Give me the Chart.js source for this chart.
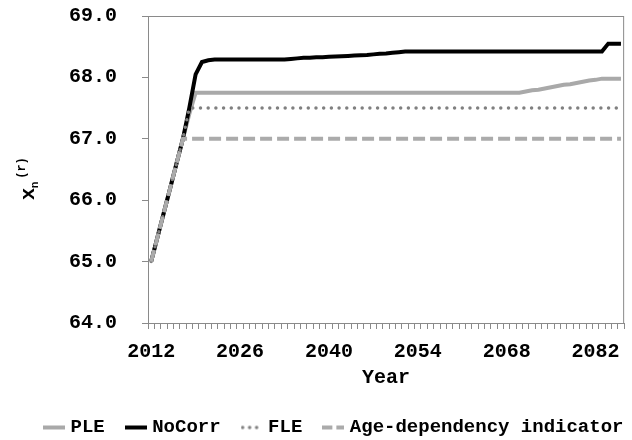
<!DOCTYPE html>
<html>
<head>
<meta charset="utf-8">
<script src="https://cdn.jsdelivr.net/npm/chart.js@4/dist/chart.umd.min.js"></script>
<style>
  html, body { margin: 0; padding: 0; background: #fff; }
  #wrap { width: 632px; height: 440px; position: relative; }
</style>
</head>
<body>
<div id="wrap"><canvas id="chart"></canvas></div>
<script>
// years on the category axis
const firstYear = 2012;
const lastYear = 2086;
const years = [];
for (let y = firstYear; y <= lastYear; y++) years.push(String(y));

const seriesNames = ['PLE', 'NoCorr', 'FLE', 'Age-dependency indicator'];

// values, one row = ten years
const ple = [
  65.0, 65.4, 65.8, 66.2, 66.6, 67.0, 67.4, 67.75, 67.75, 67.75,
  67.75, 67.75, 67.75, 67.75, 67.75, 67.75, 67.75, 67.75, 67.75, 67.75,
  67.75, 67.75, 67.75, 67.75, 67.75, 67.75, 67.75, 67.75, 67.75, 67.75,
  67.75, 67.75, 67.75, 67.75, 67.75, 67.75, 67.75, 67.75, 67.75, 67.75,
  67.75, 67.75, 67.75, 67.75, 67.75, 67.75, 67.75, 67.75, 67.75, 67.75,
  67.75, 67.75, 67.75, 67.75, 67.75, 67.75, 67.75, 67.75, 67.75, 67.77,
  67.79, 67.80, 67.82, 67.84, 67.86, 67.88, 67.89, 67.91, 67.93, 67.95,
  67.96, 67.98, 67.98, 67.98, 67.98
];
const noCorr = [
  65.0, 65.4, 65.8, 66.2, 66.6, 67.0, 67.5, 68.05, 68.25, 68.28,
  68.29, 68.29, 68.29, 68.29, 68.29, 68.29, 68.29, 68.29, 68.29, 68.29,
  68.29, 68.29, 68.30, 68.31, 68.32, 68.32, 68.33, 68.33, 68.335, 68.34,
  68.345, 68.35, 68.355, 68.36, 68.365, 68.375, 68.385, 68.39, 68.40, 68.41,
  68.42, 68.42, 68.42, 68.42, 68.42, 68.42, 68.42, 68.42, 68.42, 68.42,
  68.42, 68.42, 68.42, 68.42, 68.42, 68.42, 68.42, 68.42, 68.42, 68.42,
  68.42, 68.42, 68.42, 68.42, 68.42, 68.42, 68.42, 68.42, 68.42, 68.42,
  68.42, 68.42, 68.55, 68.55, 68.55
];
const fle = [
  65.0, 65.4, 65.8, 66.2, 66.6, 67.0, 67.5, 67.5, 67.5, 67.5,
  67.5, 67.5, 67.5, 67.5, 67.5, 67.5, 67.5, 67.5, 67.5, 67.5,
  67.5, 67.5, 67.5, 67.5, 67.5, 67.5, 67.5, 67.5, 67.5, 67.5,
  67.5, 67.5, 67.5, 67.5, 67.5, 67.5, 67.5, 67.5, 67.5, 67.5,
  67.5, 67.5, 67.5, 67.5, 67.5, 67.5, 67.5, 67.5, 67.5, 67.5,
  67.5, 67.5, 67.5, 67.5, 67.5, 67.5, 67.5, 67.5, 67.5, 67.5,
  67.5, 67.5, 67.5, 67.5, 67.5, 67.5, 67.5, 67.5, 67.5, 67.5,
  67.5, 67.5, 67.5, 67.5, 67.5
];
const ageDep = [
  65.0, 65.4, 65.8, 66.2, 66.6, 67.0, 67.0, 67.0, 67.0, 67.0,
  67.0, 67.0, 67.0, 67.0, 67.0, 67.0, 67.0, 67.0, 67.0, 67.0,
  67.0, 67.0, 67.0, 67.0, 67.0, 67.0, 67.0, 67.0, 67.0, 67.0,
  67.0, 67.0, 67.0, 67.0, 67.0, 67.0, 67.0, 67.0, 67.0, 67.0,
  67.0, 67.0, 67.0, 67.0, 67.0, 67.0, 67.0, 67.0, 67.0, 67.0,
  67.0, 67.0, 67.0, 67.0, 67.0, 67.0, 67.0, 67.0, 67.0, 67.0,
  67.0, 67.0, 67.0, 67.0, 67.0, 67.0, 67.0, 67.0, 67.0, 67.0,
  67.0, 67.0, 67.0, 67.0, 67.0
];

const yMin = 64;
const yMax = 69;
const yStep = 1;
const labelEvery = 14;

const mono = "'Liberation Mono', 'Courier New', monospace";
const axisGray = '#8a8a8a';
const legendPad = 24;

// small line samples used as legend markers (keeps the dash patterns)
function lineMarker(color, width, dash, cap) {
  const c = document.createElement('canvas');
  c.width = 22;
  c.height = 8;
  const g = c.getContext('2d');
  g.strokeStyle = color;
  g.lineWidth = width;
  g.lineCap = cap || 'butt';
  g.setLineDash(dash || []);
  g.beginPath();
  g.moveTo(cap === 'round' ? 2 : 0, 4);
  g.lineTo(22, 4);
  g.stroke();
  return c;
}

// border round the plot area
const plotFrame = {
  id: 'plotFrame',
  beforeDatasetsDraw(chart) {
    const { ctx, chartArea: a } = chart;
    ctx.save();
    ctx.strokeStyle = axisGray;
    ctx.lineWidth = 1;
    ctx.strokeRect(a.left + 0.5, a.top + 0.5, a.right - a.left - 1, a.bottom - a.top);
    ctx.restore();
  }
};

// move the legend row so it starts where the original one does
const legendShift = {
  id: 'legendShift',
  afterLayout(chart) {
    const lg = chart.legend;
    if (!lg || !lg.lineWidths) return;
    const start = (lg.left + legendPad + lg.right - lg.lineWidths[0]) / 2;
    const d = 47 - start;
    lg.left += d;
    lg.right += d;
  }
};

// rotated y title: x with subscript n and superscript (r)
const yTitle = {
  id: 'yTitle',
  afterDraw(chart) {
    const { ctx } = chart;
    ctx.save();
    ctx.translate(30, 194);
    ctx.rotate(-Math.PI / 2);
    ctx.fillStyle = '#000';
    ctx.textAlign = 'center';
    ctx.textBaseline = 'middle';
    ctx.font = 'bold 21px ' + mono;
    ctx.fillText('x', 0, -1);
    ctx.font = 'bold 11px ' + mono;
    ctx.fillText('n', 9, 5);
    ctx.font = 'bold 12px ' + mono;
    ctx.fillText('(r)', 26, -8);
    ctx.restore();
  }
};

new Chart(document.getElementById('chart'), {
  type: 'line',
  data: {
    labels: years,
    datasets: [
      {
        label: seriesNames[0],
        data: ple,
        borderColor: '#a9a9a9',
        backgroundColor: '#a9a9a9',
        borderWidth: 4,
        pointStyle: lineMarker('#a9a9a9', 4),
        order: 3
      },
      {
        label: seriesNames[1],
        data: noCorr,
        borderColor: '#000000',
        backgroundColor: '#000000',
        borderWidth: 4,
        pointStyle: lineMarker('#000000', 4),
        order: 2
      },
      {
        label: seriesNames[2],
        data: fle,
        borderColor: '#808080',
        backgroundColor: '#808080',
        borderWidth: 3.5,
        borderDash: [0, 7.7],
        borderCapStyle: 'round',
        pointStyle: lineMarker('#808080', 3.5, [0, 7], 'round'),
        order: 1
      },
      {
        label: seriesNames[3],
        data: ageDep,
        borderColor: '#ababab',
        backgroundColor: '#ababab',
        borderWidth: 4,
        borderDash: [12, 5],
        pointStyle: lineMarker('#ababab', 4, [10, 4]),
        order: 0
      }
    ]
  },
  options: {
    responsive: true,
    maintainAspectRatio: false,
    animation: false,
    elements: {
      point: { radius: 0, hoverRadius: 0 },
      line: { tension: 0, fill: false }
    },
    layout: { padding: { left: 0, right: 6, top: 16, bottom: -7 } },
    scales: {
      x: {
        type: 'category',
        offset: true,
        grid: {
          drawOnChartArea: false,
          drawTicks: true,
          tickLength: 6,
          color: axisGray,
          offset: true
        },
        border: { color: axisGray },
        ticks: {
          autoSkip: false,
          maxRotation: 0,
          padding: 11,
          color: '#000',
          font: { family: mono, size: 20, weight: 'bold' },
          callback: function (val, i) {
            return i % labelEvery === 0 ? this.getLabelForValue(val) : '';
          }
        },
        title: {
          display: true,
          text: 'Year',
          color: '#000',
          font: { family: mono, size: 20, weight: 'bold' },
          padding: { top: 0, bottom: 4 }
        },
        afterFit: (scale) => { scale.height = 71; }
      },
      y: {
        min: yMin,
        max: yMax,
        grid: {
          drawOnChartArea: false,
          drawTicks: true,
          tickLength: 6,
          color: axisGray
        },
        border: { color: axisGray },
        ticks: {
          stepSize: yStep,
          padding: 25,
          color: '#000',
          font: { family: mono, size: 20, weight: 'bold' },
          callback: (v) => v.toFixed(1)
        },
        afterFit: (scale) => {
          scale.width = 148;
          scale.paddingTop = 0;
          scale.paddingBottom = 0;
        }
      }
    },
    plugins: {
      legend: {
        display: true,
        position: 'bottom',
        labels: {
          usePointStyle: true,
          pointStyleWidth: 14,
          padding: legendPad,
          color: '#000',
          font: { family: mono, size: 19, weight: 'bold' },
          sort: (a, b) => a.datasetIndex - b.datasetIndex
        }
      },
      tooltip: { enabled: false }
    }
  },
  plugins: [plotFrame, legendShift, yTitle]
});
</script>
</body>
</html>
